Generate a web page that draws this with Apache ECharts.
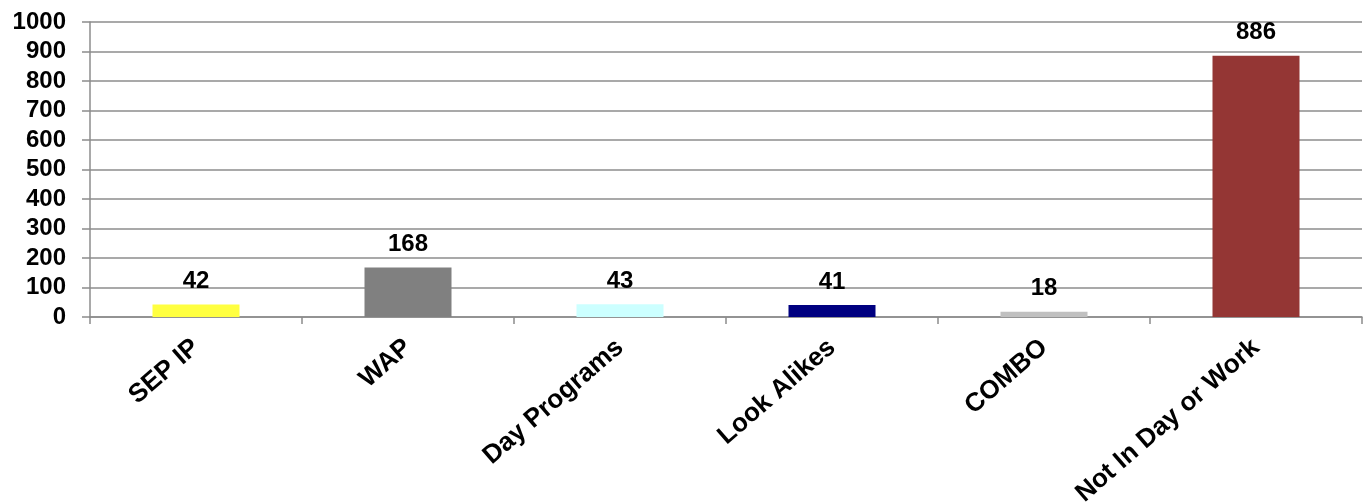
<!DOCTYPE html>
<html>
<head>
<meta charset="utf-8">
<script src="https://cdn.jsdelivr.net/npm/echarts@6/dist/echarts.min.js"></script>
<style>
  html, body { margin: 0; padding: 0; background: #fff; }
  #chart { width: 1365px; height: 502px; }
</style>
</head>
<body>
<div id="chart"></div>
<script>
var categories = ['SEP IP', 'WAP', 'Day Programs', 'Look Alikes', 'COMBO', 'Not In Day or Work'];
var values = [42, 168, 43, 41, 18, 886];
var barColors = ['#ffff40', '#808080', '#ccffff', '#000080', '#c0c0c0', '#943634'];

var myChart = echarts.init(document.getElementById('chart'));
var option = {
  animation: false,
  grid: { left: 90, right: 3, top: 22, height: 295, containLabel: false, outerBoundsMode: 'none' },
  xAxis: {
    type: 'category',
    data: categories,
    axisLine: { lineStyle: { color: '#8c8c8c', width: 1.5 } },
    axisTick: { show: true, length: 7, lineStyle: { color: '#8c8c8c', width: 1.5 } },
    axisLabel: {
      rotate: 41,
      margin: 27,
      color: '#000',
      fontFamily: 'Liberation Sans, Arial',
      fontWeight: 'bold',
      fontSize: 26
    }
  },
  yAxis: {
    type: 'value',
    min: 0,
    max: 1000,
    interval: 100,
    axisLine: { show: true, lineStyle: { color: '#8c8c8c', width: 1.5 } },
    axisTick: { show: true, length: 8, lineStyle: { color: '#8c8c8c', width: 1.5 } },
    splitLine: { lineStyle: { color: '#8c8c8c', width: 1.5 } },
    axisLabel: {
      margin: 24,
      color: '#000',
      fontFamily: 'Liberation Sans, Arial',
      fontWeight: 'bold',
      fontSize: 24,
      formatter: function (v) { return String(v); }
    }
  },
  series: [{
    type: 'bar',
    barWidth: 87,
    data: values.map(function (v, i) {
      return { value: v, itemStyle: { color: barColors[i] } };
    }),
    label: {
      show: true,
      position: 'top',
      distance: 11,
      color: '#000',
      fontFamily: 'Liberation Sans, Arial',
      fontWeight: 'bold',
      fontSize: 24
    }
  }]
};
myChart.setOption(option);
</script>
</body>
</html>
